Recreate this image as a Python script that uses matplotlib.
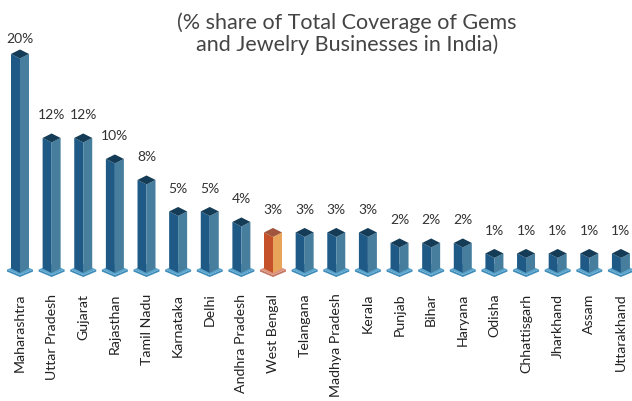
import matplotlib
matplotlib.use("Agg")
import matplotlib.pyplot as plt
from matplotlib.patches import Polygon
import numpy as np

states = ["Maharashtra", "Uttar Pradesh", "Gujarat", "Rajasthan", "Tamil Nadu",
          "Karnataka", "Delhi", "Andhra Pradesh", "West Bengal", "Telangana",
          "Madhya Pradesh", "Kerala", "Punjab", "Bihar", "Haryana", "Odisha",
          "Chhattisgarh", "Jharkhand", "Assam", "Uttarakhand"]
share = [20, 12, 12, 10, 8, 5, 5, 4, 3, 3, 3, 3, 2, 2, 2, 1, 1, 1, 1, 1]
highlight = "West Bengal"

title = "(% share of Total Coverage of Gems\nand Jewelry Businesses in India)"

blue = dict(left="#1f5a87", right="#477e9d", top="#153c56",
            plate="#5aa5cd", plate_edge="#3f8bb8")
orange = dict(left="#c4512a", right="#e8a55a", top="#a0553c",
              plate="#dc9480", plate_edge="#c27562")

plt.rcParams["font.family"] = ["Lato", "DejaVu Sans"]

W, H = 632, 401
fig = plt.figure(figsize=(W / 100, H / 100), dpi=100)
ax_bottom_px = 288
ax = fig.add_axes([0, (H - ax_bottom_px) / H, 1, ax_bottom_px / H])
ax.set_xlim(-0.632, 19.35)
ax.set_ylim(-2.29, 25.14)
for s in ax.spines.values():
    s.set_visible(False)
ax.tick_params(axis="both", length=0)
ax.set_yticks([])

# pixel-to-data conversion for the prism geometry
inv = ax.transData.inverted()
o = inv.transform((0, 0))
ux = inv.transform((1, 0))[0] - o[0]
uy = inv.transform((0, 1))[1] - o[1]

hw = 9 * ux      # half width of the prism
hd = 4.5 * uy    # half height of the diamond cap
pw = 13 * ux     # half width of the floor plate
pd = 5.5 * uy    # half height of the floor plate
pt = 2 * uy      # plate thickness
y0 = -0.43       # floor level of the prisms

for i, (name, v) in enumerate(zip(states, share)):
    c = orange if name == highlight else blue
    x = i
    top = v
    # floor plate
    yb = y0 - 0.1
    ax.add_patch(Polygon([(x - pw, yb), (x, yb - pd), (x + pw, yb),
                          (x + pw, yb - pt), (x, yb - pd - pt), (x - pw, yb - pt)],
                         closed=True, fc=c["plate_edge"], ec="none"))
    ax.add_patch(Polygon([(x - pw, yb), (x, yb + pd), (x + pw, yb), (x, yb - pd)],
                         closed=True, fc=c["plate"], ec="none"))
    # left and right faces
    ax.add_patch(Polygon([(x - hw, top), (x, top - hd), (x, y0 - hd), (x - hw, y0)],
                         closed=True, fc=c["left"], ec="none"))
    ax.add_patch(Polygon([(x, top - hd), (x + hw, top), (x + hw, y0), (x, y0 - hd)],
                         closed=True, fc=c["right"], ec="none"))
    # cap
    ax.add_patch(Polygon([(x - hw, top), (x, top + hd), (x + hw, top), (x, top - hd)],
                         closed=True, fc=c["top"], ec="none"))
    ly = min(top + hd + 12 * uy, 20.9)
    ax.text(x, ly, f"{v}%", ha="center", va="bottom", fontsize=10, color="#333333")

ax.set_xticks(range(len(states)))
ax.set_xticklabels(states, rotation=90, fontsize=10.2, color="#222222")
ax.tick_params(axis="x", pad=4)

fig.text(347 / W, 1 - 33.5 / H, title, ha="center", va="center",
         multialignment="center", fontsize=15.5, color="#444444", linespacing=1.1)

fig.savefig("out.png", dpi=100)
